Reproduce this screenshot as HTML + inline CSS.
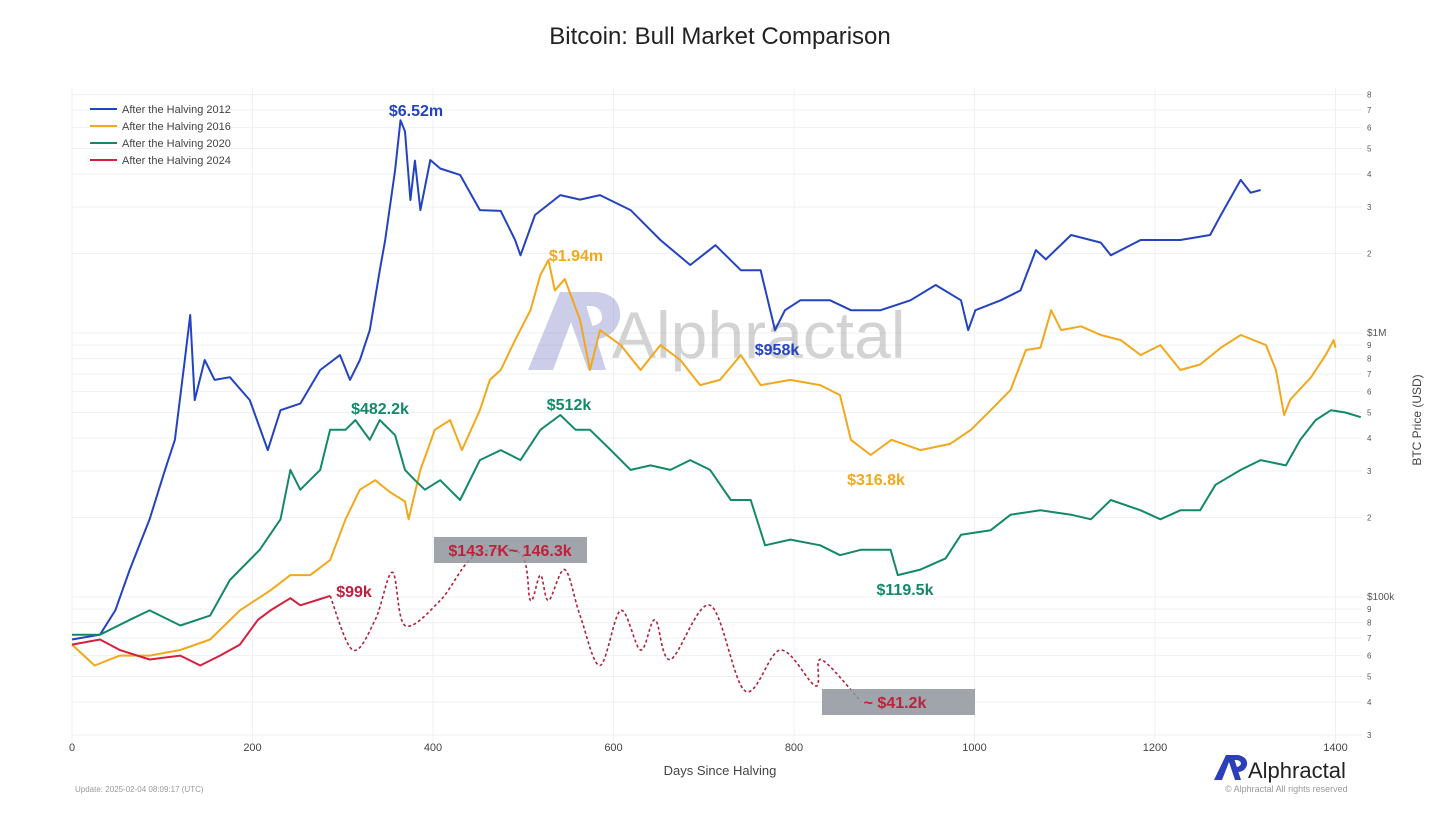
<!DOCTYPE html>
<html><head><meta charset="utf-8">
<style>
html,body{margin:0;padding:0;background:#fff;}
body{width:1440px;height:810px;overflow:hidden;font-family:"Liberation Sans",sans-serif;position:relative;}
svg text{font-family:"Liberation Sans",sans-serif;}
.an{font-weight:bold;font-size:16px;}
</style></head>
<body>
<svg id="chart" width="1440" height="810" viewBox="0 0 1440 810" xmlns="http://www.w3.org/2000/svg">
<text x="720" y="44" text-anchor="middle" font-size="24" fill="#222">Bitcoin: Bull Market Comparison</text>
<g id="grid"></g>
<g opacity="0.28">
<path d="M528 370 L560 292 L582 292 L606 370 L588 370 L571 322 L553 370 Z" fill="#4a4fb0"/>
<path d="M572 292 L598 292 Q622 296 620 318 Q616 338 592 340 L582 340 L578 326 L592 326 Q603 324 602 316 Q600 306 590 306 L576 306 Z" fill="#4a4fb0"/>
<text x="612" y="358" font-size="66" fill="#666">Alphractal</text>
</g>
<g id="series"></g>
<g font-size="11" fill="#444">
<g><line x1="90" y1="109" x2="117" y2="109" stroke="#2443c0" stroke-width="2"/><text x="122" y="113">After the Halving 2012</text></g>
<g><line x1="90" y1="126" x2="117" y2="126" stroke="#f2a81d" stroke-width="2"/><text x="122" y="130">After the Halving 2016</text></g>
<g><line x1="90" y1="143" x2="117" y2="143" stroke="#14896a" stroke-width="2"/><text x="122" y="147">After the Halving 2020</text></g>
<g><line x1="90" y1="160" x2="117" y2="160" stroke="#d4203e" stroke-width="2"/><text x="122" y="164">After the Halving 2024</text></g>
</g>
<g>
<text class="an" x="416" y="116" text-anchor="middle" fill="#2443c0">$6.52m</text>
<text class="an" x="576" y="261" text-anchor="middle" fill="#f2a81d">$1.94m</text>
<text class="an" x="777" y="355" text-anchor="middle" fill="#2443c0">$958k</text>
<text class="an" x="380" y="414" text-anchor="middle" fill="#14896a">$482.2k</text>
<text class="an" x="569" y="410" text-anchor="middle" fill="#14896a">$512k</text>
<text class="an" x="876" y="485" text-anchor="middle" fill="#f2a81d">$316.8k</text>
<text class="an" x="905" y="595" text-anchor="middle" fill="#14896a">$119.5k</text>
<text class="an" x="354" y="597" text-anchor="middle" fill="#c0203c">$99k</text>
<rect x="434" y="537" width="153" height="26" fill="#8e959b" opacity="0.85"/>
<text class="an" x="510" y="556" text-anchor="middle" fill="#c0203c">$143.7K~ 146.3k</text>
<rect x="822" y="689" width="153" height="26" fill="#8e959b" opacity="0.85"/>
<text class="an" x="895" y="708" text-anchor="middle" fill="#c0203c">~ $41.2k</text>
</g>
<text x="720" y="775" text-anchor="middle" font-size="13" fill="#444">Days Since Halving</text>
<text transform="translate(1421,420) rotate(-90)" text-anchor="middle" font-size="12" fill="#444">BTC Price (USD)</text>
<text x="75" y="792" font-size="8" fill="#999">Update: 2025-02-04 08:09:17 (UTC)</text>
<g>
<path d="M1214 780 L1226 755 L1233 755 L1241 780 L1235 780 L1229 762 L1222 780 Z" fill="#2a3fb8"/>
<path d="M1230 755 L1238 755 Q1248 757 1247 765 Q1245 772 1237 772 L1234 772 L1233 767 L1237 767 Q1241 766 1241 763 Q1240 760 1236 760 L1231 760 Z" fill="#2a3fb8"/>
<text x="1248" y="778" font-size="22" fill="#222">Alphractal</text>
</g>
<text x="1225" y="792" font-size="9" fill="#999">© Alphractal All rights reserved</text>
</svg>
<script>
// ---- data ----
const xTicks=[0,200,400,600,800,1000,1200,1400];
const yMajor=[100000,1000000];
const yMajorLabels=["$100k","$1M"];
const yMinorDigits=[2,3,4,5,6,7,8,9];

const days2012=[0,31,48,64,86,103,114,125,131,136,147,158,175,197,217,231,253,275,297,308,319,330,341,347,358,364,369,375,380,386,397,408,430,452,475,491,497,513,541,563,585,619,652,685,713,741,763,779,790,807,840,863,896,929,957,985,993,1001,1029,1051,1068,1079,1107,1140,1151,1184,1228,1261,1273,1295,1306,1317];
const price2012=[69,72,89,127,197,303,394,790,1170,557,790,664,680,557,360,510,540,724,825,664,790,1026,1730,2250,4140,6400,5800,3190,4500,2920,4520,4200,3970,2920,2900,2250,1970,2800,3330,3200,3330,2920,2250,1810,2150,1730,1730,1026,1220,1330,1330,1220,1220,1330,1520,1330,1026,1220,1330,1450,2060,1900,2350,2200,1970,2250,2250,2350,2800,3800,3400,3480];

const days2016=[0,25,53,86,120,153,186,220,242,264,286,303,319,336,352,369,373,386,402,419,432,452,463,475,491,508,519,528,535,546,563,574,585,608,630,652,674,696,718,741,763,796,829,851,863,885,908,940,973,996,1018,1040,1057,1073,1085,1096,1118,1140,1162,1184,1206,1228,1250,1273,1295,1323,1334,1343,1350,1373,1389,1398,1400];
const price2016=[66,55,60,60,63,69,89,106,121,121,138,197,255,277,250,230,197,303,430,468,360,510,664,724,940,1220,1660,1890,1450,1600,1120,724,1026,900,724,900,790,635,664,825,635,664,635,582,394,345,394,360,380,430,510,609,862,880,1220,1026,1060,983,940,825,900,724,760,880,983,900,724,489,560,680,825,940,880];

const days2020=[0,31,64,86,120,153,175,208,231,242,253,275,286,303,314,330,341,358,369,380,391,408,430,452,475,497,519,541,558,574,597,619,641,663,685,707,730,752,768,796,829,851,874,907,915,940,968,985,1018,1040,1073,1107,1129,1151,1184,1206,1228,1250,1267,1295,1317,1345,1361,1378,1395,1411,1428];
const price2020=[72,72,82,89,78,85,116,151,197,303,255,303,430,430,468,394,468,410,303,277,255,277,233,330,360,330,430,489,430,430,360,303,315,303,330,303,233,233,157,165,157,144,151,151,121,127,140,172,179,205,213,205,197,233,213,197,213,213,266,303,330,315,394,468,510,500,480];

const days2024=[0,31,53,86,120,142,164,186,206,220,242,253,270,286];
const price2024=[66,69,63,58,60,55,60,66,82,89,99,93,97,101];

const daysProj=[286,311,336,355,369,408,447,497,508,519,528,546,563,585,608,630,646,663,707,746,785,824,830,872];
const priceProj=[101,63,82,124,78,97,144,146,97,121,97,127,85,55,89,63,82,58,93,44,63,46,58,41];

// ---- axes ----
const X0=72,PXD=0.9025;
function xs(d){return X0+d*PXD;}
function ys(v){return 333-(Math.log10(v)-6)*264;}
const NS="http://www.w3.org/2000/svg";
function mk(tag,attrs,parent,before){const e=document.createElementNS(NS,tag);for(const k in attrs)e.setAttribute(k,attrs[k]);if(before)parent.insertBefore(e,before);else parent.appendChild(e);return e;}
const grid=document.getElementById('grid');
for(const dec of [10000,100000,1000000]){
  for(const m of [1,2,3,4,5,6,7,8,9]){
    const v=dec*m; if(v<30000||v>8000000) continue;
    const y=ys(v);
    const l=mk('line',{x1:72,x2:1362,y1:y,y2:y,stroke:'#eef0f3','stroke-width':1},grid);
    
    
    let lab=null;
    const mi=yMajor.indexOf(v);
    if(mi>=0) lab=yMajorLabels[mi]; else if(yMinorDigits.indexOf(m)>=0) lab=String(m);
    if(lab){const t=mk('text',{x:1367,y:y+3,'font-size':mi>=0?10:8,fill:'#555'},grid);t.textContent=lab;
      
      }
  }
}
for(const d of xTicks){
  const x=xs(d);
  const l=mk('line',{x1:x,x2:x,y1:88,y2:745,stroke:'#eef0f3','stroke-width':1},grid);
  
  
  const t=mk('text',{x:x,y:751,'text-anchor':'middle','font-size':11,fill:'#444'},grid);t.textContent=String(d);
  
  
}
// ---- series ----
const sg=document.getElementById('series');
function poly(days,prices,color,name){
  let d='';
  for(let i=0;i<days.length;i++){d+=(i?'L':'M')+xs(days[i]).toFixed(1)+' '+ys(prices[i]*1000).toFixed(1);}
  const p=mk('path',{d:d,fill:'none',stroke:color,'stroke-width':2,'stroke-linejoin':'round'},sg);
  
  
}
function smooth(days,prices,color,name){
  const pts=days.map((d,i)=>[xs(d),ys(prices[i]*1000)]);
  let d='M'+pts[0][0]+' '+pts[0][1];
  for(let i=0;i<pts.length-1;i++){
    const p0=pts[Math.max(0,i-1)],p1=pts[i],p2=pts[i+1],p3=pts[Math.min(pts.length-1,i+2)];
    const c1=[p1[0]+(p2[0]-p0[0])/6,p1[1]+(p2[1]-p0[1])/6],c2=[p2[0]-(p3[0]-p1[0])/6,p2[1]-(p3[1]-p1[1])/6];
    d+='C'+c1[0].toFixed(1)+' '+c1[1].toFixed(1)+' '+c2[0].toFixed(1)+' '+c2[1].toFixed(1)+' '+p2[0].toFixed(1)+' '+p2[1].toFixed(1);
  }
  const p=mk('path',{d:d,fill:'none',stroke:color,'stroke-width':1.6,'stroke-dasharray':'3 2.5'},sg);
  
  
}
poly(days2012,price2012,'#2443c0','line-2012');
poly(days2016,price2016,'#f2a81d','line-2016');
poly(days2020,price2020,'#14896a','line-2020');
smooth(daysProj,priceProj,'#b0213a','projection-2024');
poly(days2024,price2024,'#d4203e','line-2024');
</script>
</body></html>
